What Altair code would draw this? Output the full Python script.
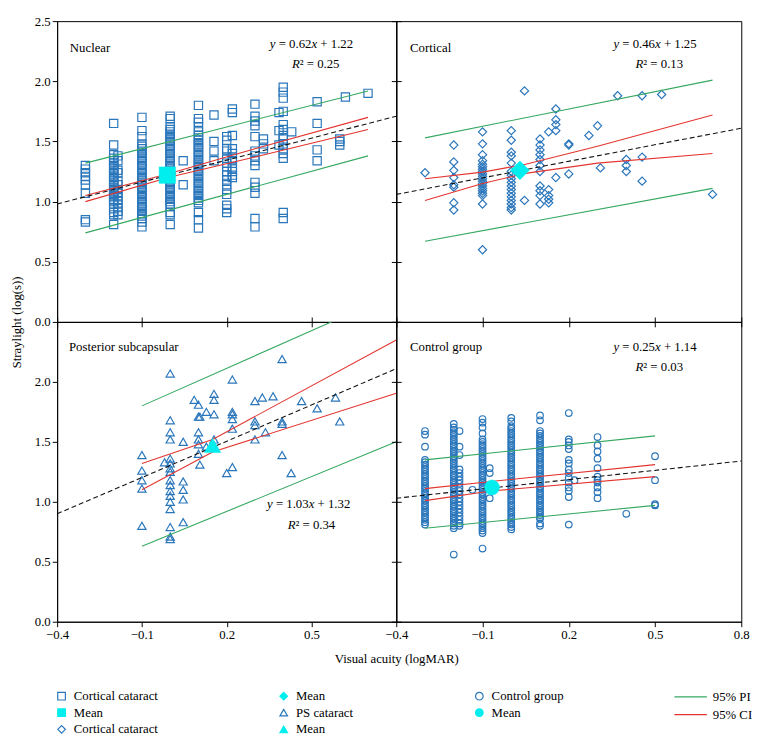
import altair as alt
import pandas as pd

# ------------------------------------------------------------------ data
X_DOMAIN = [-0.4, 0.8]
Y_DOMAIN = [0.0, 2.5]

BLUE = "#2a76bb"
CYAN = "#00eeee"
GREEN = "#35a861"
RED = "#e3342f"

# legend keys (trailing spaces keep the repeated labels distinct)
K_NUC, K_NUC_M = "Cortical cataract", "Mean"
K_COR, K_COR_M = "Cortical cataract ", "Mean "
K_PS, K_PS_M = "PS cataract", "Mean  "
K_CTL, K_CTL_M = "Control group", "Mean   "

LEGEND_KEYS = [K_NUC, K_NUC_M, K_COR, K_COR_M, K_PS, K_PS_M, K_CTL, K_CTL_M]
LEGEND_SHAPES = ["square", "square", "diamond", "diamond", "triangle-up", "triangle-up", "circle", "circle"]
LEGEND_FILLS = ["transparent", CYAN, "transparent", CYAN, "transparent", CYAN, "transparent", CYAN]
LEGEND_STROKES = [BLUE, CYAN, BLUE, CYAN, BLUE, CYAN, BLUE, CYAN]
BANDS = ["95% PI", "95% CI"]

# ---- Nuclear (x: logMAR, list of straylight values)
NUCLEAR_POINTS = [
    (-0.3, [1.30, 1.27, 1.24, 1.21, 1.18, 1.14, 1.07, 0.85, 0.83]),
    (-0.2, [1.65, 1.47, 1.39, 1.36, 1.34, 1.32, 1.30, 1.28, 1.26, 1.24, 1.22, 1.20, 1.18, 1.16, 1.14,
            1.12, 1.10, 1.08, 1.06, 1.04, 1.02, 1.00, 0.98, 0.94, 0.91, 0.89, 0.81]),
    (-0.185, [1.38, 1.34, 1.26, 1.24, 1.17, 1.14, 1.10, 1.07, 1.04, 1.01, 0.98, 0.95, 0.92, 0.89]),
    (-0.1, [1.70, 1.59, 1.54, 1.48, 1.46, 1.44, 1.42, 1.40, 1.38, 1.36, 1.34, 1.32, 1.30, 1.28, 1.26,
            1.24, 1.22, 1.20, 1.18, 1.16, 1.14, 1.12, 1.10, 1.08, 1.06, 1.04, 1.02, 1.00, 0.98, 0.96,
            0.94, 0.92, 0.90, 0.88, 0.86, 0.83, 0.79]),
    (0.0, [1.71, 1.69, 1.62, 1.60, 1.58, 1.56, 1.54, 1.52, 1.50, 1.48, 1.46, 1.44, 1.42, 1.40, 1.38,
           1.36, 1.34, 1.32, 1.30, 1.28, 1.26, 1.24, 1.22, 1.20, 1.18, 1.16, 1.14, 1.12, 1.10, 1.08,
           1.06, 1.04, 1.02, 1.00, 0.98, 0.96, 0.91, 0.89, 0.81]),
    (0.046, [1.34, 1.14]),
    (0.1, [1.80, 1.69, 1.66, 1.62, 1.58, 1.55, 1.53, 1.51, 1.49, 1.47, 1.45, 1.43, 1.41, 1.39, 1.37,
           1.35, 1.33, 1.31, 1.29, 1.27, 1.25, 1.23, 1.21, 1.19, 1.17, 1.15, 1.13, 1.11, 1.09, 1.07,
           1.05, 1.03, 1.01, 0.99, 0.91, 0.85, 0.78]),
    (0.155, [1.72, 1.50, 1.42, 1.34]),
    (0.2, [1.54, 1.51, 1.44, 1.42, 1.36, 1.32, 1.29, 1.25, 1.22, 1.18, 1.14, 1.10, 1.06, 0.97, 0.94, 0.91]),
    (0.22, [1.77, 1.74, 1.55, 1.44, 1.40, 1.36, 1.34, 1.28, 1.25, 1.22, 1.20]),
    (0.3, [1.81, 1.71, 1.67, 1.63, 1.54, 1.42, 1.38, 1.34, 1.30, 1.16, 1.12, 1.07, 0.86, 0.79]),
    (0.33, [1.52, 1.48, 1.44]),
    (0.385, [1.74, 1.59, 1.47]),
    (0.4, [1.95, 1.91, 1.86, 1.75, 1.64, 1.60, 1.55, 1.52, 1.48, 1.44, 1.40, 1.36, 0.91, 0.86]),
    (0.43, [1.58]),
    (0.52, [1.83, 1.65, 1.43, 1.34]),
    (0.6, [1.52, 1.50, 1.47]),
    (0.62, [1.87]),
    (0.7, [1.90]),
]
NUCLEAR_MEAN = (-0.01, 1.22)
NUCLEAR_LINES = {
    "dash": [(-0.4, 0.98), (0.8, 1.71)],
    "pi_hi": [(-0.3, 1.32), (0.7, 1.92)],
    "pi_lo": [(-0.3, 0.74), (0.7, 1.38)],
    "ci_hi": [(-0.3, 1.05), (0.0, 1.235), (0.3, 1.44), (0.7, 1.70)],
    "ci_lo": [(-0.3, 1.00), (0.0, 1.205), (0.3, 1.37), (0.7, 1.60)],
}

# ---- Cortical
CORTICAL_POINTS = [
    (-0.3, [1.24]),
    (-0.2, [1.47, 1.33, 1.26, 1.20, 1.14, 1.12, 0.99, 0.93]),
    (-0.1, [1.58, 1.48, 1.39, 1.34, 1.31, 1.29, 1.27, 1.25, 1.23, 1.21, 1.19, 1.17, 1.15, 1.13, 1.11,
            1.09, 1.07, 1.05, 0.98, 0.60]),
    (0.0, [1.59, 1.51, 1.41, 1.38, 1.32, 1.25, 1.22, 1.19, 1.16, 1.13, 1.10, 1.07, 1.04, 1.01, 0.98,
           0.95, 0.93]),
    (0.046, [1.92, 1.01]),
    (0.1, [1.52, 1.47, 1.43, 1.39, 1.35, 1.30, 1.25, 1.13, 1.09, 1.05, 0.98]),
    (0.13, [1.58, 1.10, 1.05, 1.02, 0.99]),
    (0.155, [1.77, 1.68, 1.64, 1.59, 1.20]),
    (0.2, [1.48, 1.47, 1.23]),
    (0.27, [1.55]),
    (0.30, [1.63]),
    (0.31, [1.28]),
    (0.37, [1.88]),
    (0.40, [1.35, 1.30, 1.25]),
    (0.455, [1.88, 1.37, 1.17]),
    (0.523, [1.89]),
    (0.70, [1.06]),
]
CORTICAL_MEAN = (0.03, 1.26)
CORTICAL_LINES = {
    "dash": [(-0.4, 1.06), (0.8, 1.61)],
    "pi_hi": [(-0.3, 1.53), (0.7, 2.01)],
    "pi_lo": [(-0.3, 0.67), (0.7, 1.11)],
    "ci_hi": [(-0.3, 1.19), (-0.1, 1.245), (0.05, 1.31), (0.3, 1.46), (0.7, 1.72)],
    "ci_lo": [(-0.3, 1.01), (-0.1, 1.15), (0.05, 1.235), (0.3, 1.32), (0.7, 1.40)],
}

# ---- Posterior subcapsular
PS_POINTS = [
    (-0.1, [1.39, 1.26, 1.18, 1.11, 0.80]),
    (-0.02, [1.33]),
    (0.0, [2.07, 1.68, 1.58, 1.52, 1.36, 1.32, 1.28, 1.25, 1.18, 1.14, 1.09, 1.05, 1.00, 0.94, 0.79,
           0.71, 0.69]),
    (0.046, [1.50, 1.17, 1.10, 1.02, 0.83]),
    (0.085, [1.85]),
    (0.1, [1.81, 1.71, 1.58, 1.52, 1.48, 1.40]),
    (0.105, [1.71, 1.31]),
    (0.128, [1.75, 1.46]),
    (0.155, [1.90, 1.85, 1.73, 1.52]),
    (0.2, [1.24]),
    (0.22, [2.02, 1.75, 1.73, 1.69, 1.61, 1.29]),
    (0.3, [1.84, 1.67, 1.64, 1.52]),
    (0.326, [1.87]),
    (0.337, [1.58]),
    (0.364, [1.88]),
    (0.396, [2.19, 1.67, 1.65, 1.39]),
    (0.428, [1.24]),
    (0.465, [1.84]),
    (0.52, [1.78]),
    (0.585, [1.87]),
    (0.60, [1.67]),
]
PS_MEAN = (0.15, 1.47)
PS_LINES = {
    "dash": [(-0.4, 0.90), (0.8, 2.11)],
    "pi_hi": [(-0.1, 1.80), (0.8, 2.74)],
    "pi_lo": [(-0.1, 0.63), (0.8, 1.50)],
    "ci_hi": [(-0.1, 1.32), (0.15, 1.52), (0.8, 2.35)],
    "ci_lo": [(-0.1, 1.10), (0.15, 1.415), (0.8, 1.905)],
}

# ---- Control group
CONTROL_POINTS = [
    (-0.3, [1.59, 1.56, 1.46, 1.35, 1.33, 1.31, 1.29, 1.27, 1.25, 1.23, 1.21, 1.19, 1.17, 1.15, 1.13,
            1.11, 1.09, 1.07, 1.05, 1.03, 1.01, 0.99, 0.97, 0.95, 0.93, 0.91, 0.89, 0.87, 0.85, 0.83,
            0.81]),
    (-0.2, [1.65, 1.62, 1.60, 1.58, 1.56, 1.54, 1.52, 1.50, 1.48, 1.46, 1.44, 1.42, 1.40, 1.38, 1.36,
            1.34, 1.32, 1.30, 1.28, 1.26, 1.24, 1.22, 1.20, 1.18, 1.16, 1.14, 1.12, 1.10, 1.08, 1.06,
            1.04, 1.02, 1.00, 0.98, 0.96, 0.94, 0.92, 0.90, 0.88, 0.86, 0.84, 0.82, 0.80, 0.78, 0.56]),
    (-0.18, [1.59, 1.46, 1.39, 1.27, 1.24, 1.21, 1.18, 1.15, 1.12, 1.09, 1.06, 1.03, 1.00, 0.97, 0.94,
             0.91, 0.88, 0.85, 0.82, 0.80]),
    (-0.135, [1.10]),
    (-0.1, [1.69, 1.66, 1.62, 1.57, 1.52, 1.50, 1.48, 1.46, 1.44, 1.42, 1.40, 1.38, 1.36, 1.34, 1.32,
            1.30, 1.28, 1.26, 1.24, 1.22, 1.20, 1.18, 1.16, 1.14, 1.12, 1.10, 1.08, 1.06, 1.04, 1.02,
            1.00, 0.98, 0.96, 0.94, 0.92, 0.90, 0.88, 0.86, 0.84, 0.82, 0.80, 0.78, 0.76, 0.74, 0.61]),
    (-0.075, [1.28, 1.24, 1.03]),
    (0.0, [1.70, 1.67, 1.63, 1.61, 1.59, 1.57, 1.55, 1.53, 1.51, 1.49, 1.47, 1.45, 1.43, 1.41, 1.39,
           1.37, 1.35, 1.33, 1.31, 1.29, 1.27, 1.25, 1.23, 1.21, 1.19, 1.17, 1.15, 1.13, 1.11, 1.09,
           1.07, 1.05, 1.03, 1.01, 0.99, 0.97, 0.95, 0.93, 0.91, 0.89, 0.87, 0.85, 0.83, 0.81, 0.79,
           0.77]),
    (0.1, [1.72, 1.68, 1.59, 1.57, 1.55, 1.53, 1.51, 1.49, 1.47, 1.45, 1.43, 1.41, 1.39, 1.37, 1.35,
           1.33, 1.31, 1.29, 1.27, 1.25, 1.23, 1.21, 1.19, 1.17, 1.15, 1.13, 1.11, 1.09, 1.07, 1.05,
           1.03, 1.01, 0.99, 0.97, 0.95, 0.93, 0.91, 0.89, 0.87, 0.86, 0.82, 0.80]),
    (0.2, [1.74, 1.52, 1.50, 1.47, 1.44, 1.35, 1.32, 1.27, 1.24, 1.20, 1.16, 1.12, 1.09, 1.04, 0.81]),
    (0.22, [1.18]),
    (0.3, [1.54, 1.47, 1.42, 1.36, 1.28, 1.21, 1.18, 1.16, 1.12, 1.08, 1.03]),
    (0.4, [0.90]),
    (0.5, [1.38, 1.18, 0.98, 0.97]),
]
CONTROL_MEAN = (-0.067, 1.12)
CONTROL_LINES = {
    "dash": [(-0.4, 1.03), (0.8, 1.34)],
    "pi_hi": [(-0.3, 1.35), (0.5, 1.55)],
    "pi_lo": [(-0.3, 0.78), (0.5, 0.97)],
    "ci_hi": [(-0.3, 1.11), (-0.07, 1.17), (0.5, 1.31)],
    "ci_lo": [(-0.3, 1.01), (-0.07, 1.09), (0.5, 1.21)],
}

# panel texts: name, slope, intercept, r2 (as printed)
PANEL_TEXT = {
    "nuc": ("Nuclear", "0.62", "1.22", "0.25"),
    "cor": ("Cortical", "0.46", "1.25", "0.13"),
    "ps": ("Posterior subcapsular", "1.03", "1.32", "0.34"),
    "ctl": ("Control group", "0.25", "1.14", "0.03"),
}

# annotation anchors in data units (layout, not data)
ANCHORS = {
    "nuc": {"name": (-0.355, 2.28), "eq": (0.50, 2.31), "r2": (0.515, 2.14)},
    "cor": {"name": (-0.352, 2.28), "eq": (0.50, 2.31), "r2": (0.515, 2.14)},
    "ps": {"name": (-0.358, 2.29), "eq": (0.49, 0.98), "r2": (0.50, 0.81)},
    "ctl": {"name": (-0.352, 2.29), "eq": (0.50, 2.29), "r2": (0.515, 2.12)},
}

FONT = "Liberation Serif"
FS = 13
X_TICKS_ALL = [-0.4, -0.1, 0.2, 0.5, 0.8]
Y_TICKS_ALL = [0.0, 0.5, 1.0, 1.5, 2.0, 2.5]


# ------------------------------------------------------------------ helpers
def series_encodings():
    leg = alt.Legend(
        title=None, orient="none", legendX=-2, legendY=680, columns=3,
        columnPadding=121, rowPadding=3, symbolSize=60, symbolStrokeWidth=1.2,
        labelFontSize=FS, labelFont=FONT, labelOffset=6, labelColor="black",
    )
    return dict(
        shape=alt.Shape("series:N", scale=alt.Scale(domain=LEGEND_KEYS, range=LEGEND_SHAPES), legend=leg),
        fill=alt.Fill("series:N", scale=alt.Scale(domain=LEGEND_KEYS, range=LEGEND_FILLS), legend=leg),
        stroke=alt.Stroke("series:N", scale=alt.Scale(domain=LEGEND_KEYS, range=LEGEND_STROKES), legend=leg),
    )


def xenc(axis):
    return alt.X("x:Q", scale=alt.Scale(domain=X_DOMAIN, nice=False, zero=False), axis=axis)


def yenc(axis):
    return alt.Y("y:Q", scale=alt.Scale(domain=Y_DOMAIN, nice=False, zero=False), axis=axis)


def text_layer(x, y, text, dx=0, italic=False, align="left"):
    df = pd.DataFrame([{"x": x, "y": y, "t": text}])
    kw = dict(align=align, baseline="middle", fontSize=FS, font=FONT, color="black", dx=dx)
    if italic:
        kw["fontStyle"] = "italic"
    return alt.Chart(df).mark_text(**kw).encode(x=xenc(None), y=yenc(None), text="t:N")


def equation_layers(key):
    _, slope, icpt, r2 = PANEL_TEXT[key]
    anc = ANCHORS[key]
    em = FS
    # widths (em) of Times-like glyphs: y,x italic .444 ; '=' '+' .564 ; space .25 ; digits .5 ; '.' .25
    w_y = 0.444 * em
    w_sp = 0.25 * em
    w_mid = (0.564 + 0.25 + 1.75) * em
    total = w_y + w_sp + w_mid + w_y + w_sp + w_mid
    start = -total / 2
    ex, ey = anc["eq"]
    layers = [
        text_layer(ex, ey, "y", dx=start, italic=True),
        text_layer(ex, ey, "= " + slope, dx=start + w_y + w_sp),
        text_layer(ex, ey, "x", dx=start + w_y + w_sp + w_mid, italic=True),
        text_layer(ex, ey, "+ " + icpt, dx=start + 2 * w_y + 2 * w_sp + w_mid),
    ]
    w_r = 0.611 * em
    w_rest = (0.3 + 0.25 + 0.564 + 0.25 + 1.75) * em
    rstart = -(w_r + w_rest) / 2
    rx, ry = anc["r2"]
    layers += [
        text_layer(rx, ry, "R", dx=rstart, italic=True),
        text_layer(rx, ry, "\u00b2 = " + r2, dx=rstart + w_r),
    ]
    return layers


def tick_axis(orient, values):
    return alt.Axis(orient=orient, values=values, labels=False, title=None, domain=False, grid=False,
                    tickSize=5)


def make_panel(key, cols, series, mean_xy, mean_series, lines, width, height, x_axis, y_axis,
               pt_size, mean_size, extra_x=None, extra_y=None):
    pts = pd.DataFrame([{"x": x, "y": y, "series": series} for x, yv in cols for y in yv])
    mean = pd.DataFrame([{"x": mean_xy[0], "y": mean_xy[1], "series": mean_series}])

    band_of = {"pi_hi": "95% PI", "pi_lo": "95% PI", "ci_hi": "95% CI", "ci_lo": "95% CI"}
    band_rows = [{"x": x, "y": y, "line": name, "band": band_of[name]}
                 for name, seq in lines.items() if name != "dash" for x, y in seq]
    bands = pd.DataFrame(band_rows)
    dash = pd.DataFrame([{"x": x, "y": y} for x, y in lines["dash"]])

    enc = series_encodings()
    point_layer = alt.Chart(pts).mark_point(filled=True, size=pt_size, strokeWidth=1.2, opacity=1).encode(
        x=xenc(x_axis), y=yenc(y_axis), **enc)
    mean_layer = alt.Chart(mean).mark_point(filled=True, size=mean_size, strokeWidth=0.5, opacity=1).encode(
        x=xenc(None), y=yenc(None), **enc)
    band_layer = alt.Chart(bands).mark_line(strokeWidth=1.1, clip=True).encode(
        x=xenc(None), y=yenc(None), detail="line:N",
        color=alt.Color("band:N", scale=alt.Scale(domain=BANDS, range=[GREEN, RED]),
                        legend=alt.Legend(title=None, orient="none", legendX=638, legendY=681,
                                          symbolType="M-3,0L3,0", symbolSize=121, symbolStrokeWidth=1.2,
                                          rowPadding=4, labelFontSize=FS, labelFont=FONT,
                                          labelOffset=16, labelColor="black")),
    )
    dash_layer = alt.Chart(dash).mark_line(strokeWidth=1.1, strokeDash=[5, 3], color="#111111", clip=True).encode(
        x=xenc(extra_x), y=yenc(extra_y))

    name = PANEL_TEXT[key][0]
    nx, ny = ANCHORS[key]["name"]
    name_layer = text_layer(nx, ny, name)

    return alt.layer(point_layer, band_layer, dash_layer, mean_layer, name_layer,
                     *equation_layers(key)).resolve_axis(x="independent", y="independent").properties(
        width=width, height=height)


def axis(values, labels, title=None, **kw):
    args = dict(values=values, labels=labels, format=".1f", grid=False)
    args["title"] = title if title is not None else None
    args.update(kw)
    return alt.Axis(**args)


W_L, W_R, H_T, H_B = 345, 351, 306, 305

p_nuc = make_panel("nuc", NUCLEAR_POINTS, K_NUC, NUCLEAR_MEAN, K_NUC_M, NUCLEAR_LINES, W_L, H_T,
                   axis(X_TICKS_ALL, False),
                   axis(Y_TICKS_ALL, True, "Straylight (log(s))", titleX=-41, titleY=H_T,
                        titleBaseline="middle", titleAngle=270),
                   70, 280, extra_y=tick_axis("right", Y_TICKS_ALL))
p_cor = make_panel("cor", CORTICAL_POINTS, K_COR, CORTICAL_MEAN, K_COR_M, CORTICAL_LINES, W_R, H_T,
                   axis(X_TICKS_ALL, False), axis(Y_TICKS_ALL, False), 70, 370)
p_ps = make_panel("ps", PS_POINTS, K_PS, PS_MEAN, K_PS_M, PS_LINES, W_L, H_B,
                  axis([-0.4, -0.1, 0.2, 0.5], True, "Visual acuity (logMAR)", titleX=W_L, titleY=37,
                       titleBaseline="middle"),
                  axis([0.0, 0.5, 1.0, 1.5, 2.0], True), 70, 280,
                  extra_x=tick_axis("top", X_TICKS_ALL), extra_y=tick_axis("right", Y_TICKS_ALL))
p_ctl = make_panel("ctl", CONTROL_POINTS, K_CTL, CONTROL_MEAN, K_CTL_M, CONTROL_LINES, W_R, H_B,
                   axis(X_TICKS_ALL, True), axis(Y_TICKS_ALL, False), 45, 230,
                   extra_x=tick_axis("top", X_TICKS_ALL))

chart = (
    alt.concat(p_nuc, p_cor, p_ps, p_ctl, columns=2, spacing=0, bounds="flush")
    .properties(padding={"left": 2, "top": 0, "right": 5, "bottom": 0})
    .configure(font=FONT)
    .configure_view(stroke="black", strokeWidth=1)
    .configure_axis(
        domainColor="black", tickColor="black", labelColor="black", titleColor="black",
        labelFont=FONT, titleFont=FONT, labelFontSize=FS, titleFontSize=FS, titleFontWeight="normal",
        tickSize=5, labelPadding=2, labelFlush=False, labelOverlap=False, domainWidth=1, tickWidth=1,
    )
    .configure_legend(labelFont=FONT, labelFontSize=FS)
)

chart.save("out.html", embed_options={"renderer": "svg", "actions": False})
